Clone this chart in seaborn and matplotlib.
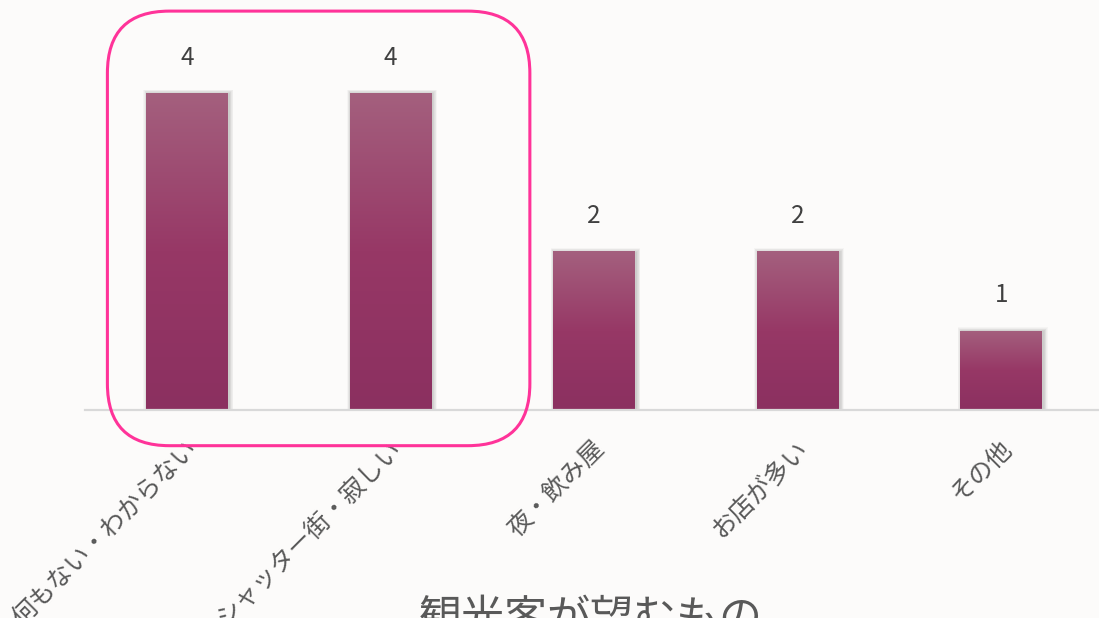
import numpy as np
import pandas as pd
import matplotlib
matplotlib.use("Agg")
import matplotlib.pyplot as plt
import matplotlib.transforms as mtransforms
from matplotlib.patches import FancyBboxPatch, Rectangle
from matplotlib.colors import LinearSegmentedColormap
import seaborn as sns

# 観光客が望むもの — 回答数
categories = ["何もない・わからない", "シャッター街・寂しい", "夜・飲み屋", "お店が多い", "その他"]
counts = [4, 4, 2, 2, 1]
title_text = "観光客が望むもの"

BG = "#fcfbfa"
TEXT = "#595959"
LABEL = "#404040"
HIGHLIGHT = "#ff3399"

sns.set_theme(style="white")
plt.rcParams["font.family"] = ["Noto Sans CJK JP", "DejaVu Sans"]

W, H = 1099, 618
fig = plt.figure(figsize=(W / 100, H / 100), dpi=100, facecolor=BG)
ax = fig.add_axes([85 / W, 208 / H, (1103 - 85) / W, 410 / H])
ax.set_facecolor(BG)

df = pd.DataFrame({"category": categories, "count": counts})
sns.barplot(data=df, x="category", y="count", color="#9a3868", width=0.4,
            ax=ax, saturation=1, zorder=3)

ax.set_xlim(-0.5, 4.5)
ax.set_ylim(0, 5.17)

# per-bar vertical gradient with a soft drop shadow
grad = LinearSegmentedColormap.from_list("bar", ["#8b3060", "#973866", "#a4607e"])
px_x = 1 / 203.5
px_y = 1 / 79.3
for p in ax.patches:
    x0, y0 = p.get_x(), p.get_y()
    w, h = p.get_width(), p.get_height()
    for k in range(1, 8):
        g = k * 0.6
        s = Rectangle((x0 - g * px_x + 1.5 * px_x, y0),
                      w + 2 * g * px_x, h + g * px_y - 1.0 * px_y,
                      facecolor="#000000", edgecolor="none", alpha=0.028,
                      zorder=2)
        ax.add_patch(s)
    img = ax.imshow(np.linspace(0, 1, 512).reshape(-1, 1), cmap=grad,
                    extent=[x0, x0 + w, y0, y0 + h], origin="lower",
                    aspect="auto", interpolation="bilinear", zorder=3.5)
    img.set_clip_path(p)
    p.set_facecolor("none")
    p.set_edgecolor("none")

ax.bar_label(ax.containers[0], labels=[str(c) for c in counts], padding=16,
             fontsize=17.5, color=LABEL)

sns.despine(ax=ax, left=True, top=True, right=True)
ax.spines["bottom"].set_color("#d9d9d9")
ax.spines["bottom"].set_linewidth(1.6)
ax.spines["bottom"].set_zorder(4)
ax.set_yticks([])
ax.set_xlabel("")
ax.set_ylabel("")
ax.tick_params(axis="x", length=0, pad=25, labelsize=18, labelcolor=TEXT)
shift = mtransforms.ScaledTranslation(7 / 100, 0, fig.dpi_scale_trans)
for lbl in ax.get_xticklabels():
    lbl.set_rotation(45)
    lbl.set_ha("right")
    lbl.set_va("center")
    lbl.set_rotation_mode("anchor")
    lbl.set_transform(lbl.get_transform() + shift)

# rounded highlight around the two leading categories
fig.canvas.draw()
(lx, by) = ax.transData.transform((-0.39, -0.45))
(rx, ty) = ax.transData.transform((1.685, 5.03))
box = FancyBboxPatch((lx, by), rx - lx, ty - by,
                     boxstyle="round,pad=0,rounding_size=62",
                     facecolor="none", edgecolor=HIGHLIGHT, linewidth=2.2,
                     transform=mtransforms.IdentityTransform(), zorder=10)
fig.patches.append(box)

fig.text(591 / W, 21 / H, title_text, ha="center", va="top",
         fontsize=31, color=TEXT)

fig.savefig("out.png", dpi=100, facecolor=BG)
